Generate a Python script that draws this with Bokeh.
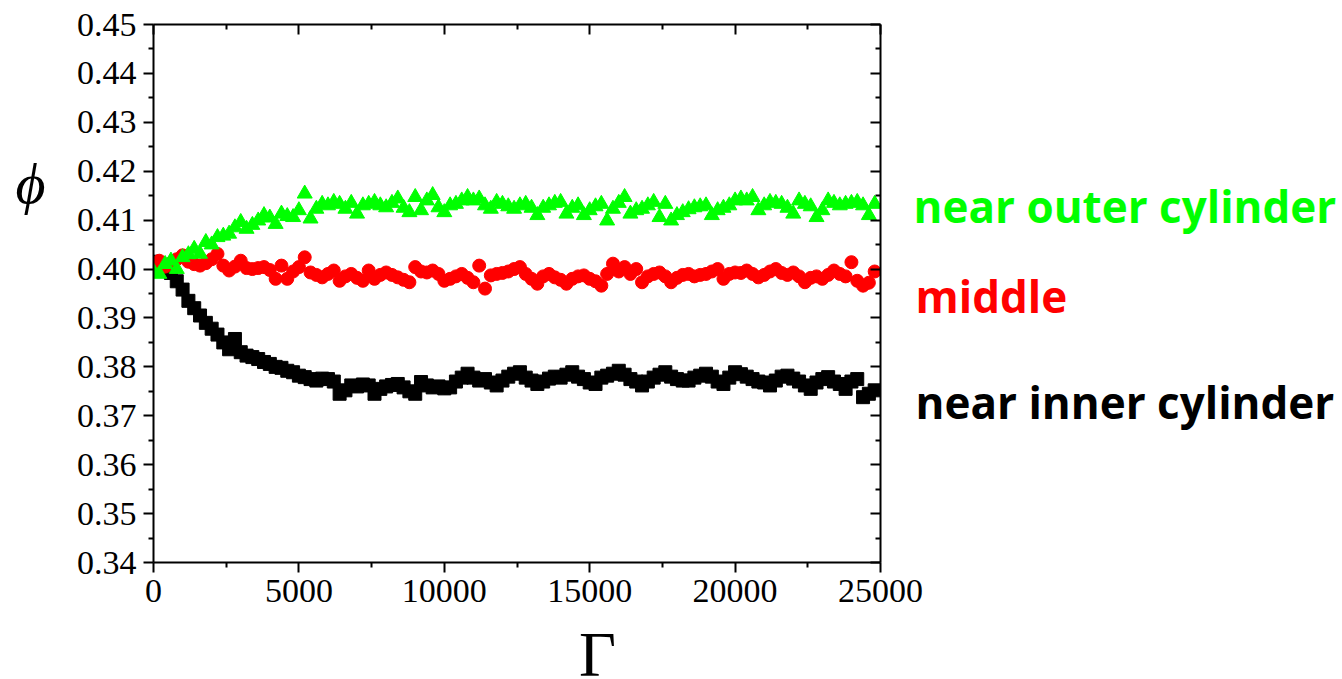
from bokeh.plotting import figure
from bokeh.layouts import row
from bokeh.models import Range1d, LinearAxis, FixedTicker
from bokeh.core.properties import value
from bokeh.embed import file_html
from bokeh.resources import INLINE

# Sampling in Gamma (shear strain), one value every 200
gamma = list(range(0, 25000, 200))

# Packing fraction near the inner cylinder
phi_inner = [
    0.4015, 0.4008, 0.4000, 0.3992, 0.3975, 0.3958, 0.3935, 0.3920, 0.3905, 0.3890,
    0.3878, 0.3866, 0.3850, 0.3836, 0.3857, 0.3830, 0.3823, 0.3820, 0.3816, 0.3810,
    0.3806, 0.3800, 0.3798, 0.3792, 0.3789, 0.3782, 0.3779, 0.3775, 0.3772, 0.3776,
    0.3775, 0.3770, 0.3745, 0.3752, 0.3762, 0.3760, 0.3764, 0.3762, 0.3745, 0.3755,
    0.3760, 0.3763, 0.3765, 0.3758, 0.3750, 0.3745, 0.3769, 0.3762, 0.3758, 0.3760,
    0.3756, 0.3758, 0.3770, 0.3778, 0.3786, 0.3778, 0.3772, 0.3775, 0.3768, 0.3762,
    0.3772, 0.3780, 0.3786, 0.3789, 0.3778, 0.3772, 0.3765, 0.3770, 0.3776, 0.3780,
    0.3778, 0.3784, 0.3789, 0.3780, 0.3775, 0.3768, 0.3765, 0.3778, 0.3782, 0.3786,
    0.3792, 0.3784, 0.3775, 0.3770, 0.3762, 0.3770, 0.3778, 0.3784, 0.3789, 0.3780,
    0.3775, 0.3772, 0.3772, 0.3778, 0.3782, 0.3786, 0.3780, 0.3770, 0.3765, 0.3778,
    0.3789, 0.3785, 0.3780, 0.3775, 0.3770, 0.3768, 0.3762, 0.3772, 0.3780, 0.3782,
    0.3776, 0.3770, 0.3762, 0.3755, 0.3768, 0.3775, 0.3779, 0.3770, 0.3765, 0.3755,
    0.3770, 0.3775, 0.3738, 0.3745, 0.3752,
]

# Packing fraction in the middle of the gap
phi_middle = [
    0.4010, 0.4017, 0.4005, 0.4012, 0.4020, 0.4028, 0.4015, 0.4010, 0.4007, 0.4012,
    0.4020, 0.4031, 0.4007, 0.3997, 0.4005, 0.4017, 0.4002, 0.4000, 0.4002, 0.4004,
    0.3998, 0.3980, 0.4007, 0.3980, 0.3995, 0.4004, 0.4024, 0.3993, 0.3988, 0.3983,
    0.3990, 0.3997, 0.3976, 0.3985, 0.3990, 0.3982, 0.3976, 0.3997, 0.3980, 0.3988,
    0.3993, 0.3988, 0.3983, 0.3978, 0.3973, 0.4004, 0.3995, 0.3993, 0.3997, 0.3990,
    0.3976, 0.3980, 0.3985, 0.3990, 0.3982, 0.3973, 0.4007, 0.3960, 0.3987, 0.3990,
    0.3992, 0.3995, 0.4000, 0.4004, 0.3990, 0.3980, 0.3970, 0.3985, 0.3990, 0.3983,
    0.3978, 0.3970, 0.3980, 0.3985, 0.3987, 0.3980, 0.3975, 0.3966, 0.3990, 0.4011,
    0.3995, 0.4004, 0.3990, 0.4000, 0.3973, 0.3985, 0.3990, 0.3993, 0.3985, 0.3973,
    0.3982, 0.3988, 0.3990, 0.3985, 0.3988, 0.3990, 0.3995, 0.4000, 0.3980, 0.3990,
    0.3993, 0.3992, 0.3997, 0.3990, 0.3983, 0.3988, 0.3995, 0.4000, 0.3992, 0.3988,
    0.3993, 0.3985, 0.3973, 0.3982, 0.3985, 0.3980, 0.3988, 0.3997, 0.3990, 0.3985,
    0.4014, 0.3976, 0.3966, 0.3972, 0.3995,
]

# Packing fraction near the outer cylinder
phi_outer = [
    0.3995, 0.3990, 0.4010, 0.4017, 0.4000, 0.4024, 0.4030, 0.4041, 0.4031, 0.4055,
    0.4050, 0.4065, 0.4068, 0.4072, 0.4085, 0.4096, 0.4082, 0.4090, 0.4099, 0.4110,
    0.4105, 0.4092, 0.4113, 0.4108, 0.4106, 0.4120, 0.4154, 0.4103, 0.4123, 0.4133,
    0.4130, 0.4137, 0.4133, 0.4123, 0.4135, 0.4113, 0.4130, 0.4133, 0.4137, 0.4130,
    0.4126, 0.4135, 0.4144, 0.4125, 0.4116, 0.4147, 0.4120, 0.4140, 0.4151, 0.4126,
    0.4116, 0.4130, 0.4133, 0.4140, 0.4147, 0.4140, 0.4144, 0.4130, 0.4123, 0.4137,
    0.4133, 0.4128, 0.4123, 0.4130, 0.4133, 0.4125, 0.4110, 0.4125, 0.4130, 0.4135,
    0.4137, 0.4113, 0.4125, 0.4130, 0.4110, 0.4120, 0.4128, 0.4133, 0.4099, 0.4123,
    0.4135, 0.4147, 0.4113, 0.4120, 0.4123, 0.4130, 0.4137, 0.4106, 0.4133, 0.4099,
    0.4110, 0.4116, 0.4122, 0.4126, 0.4128, 0.4130, 0.4110, 0.4120, 0.4125, 0.4130,
    0.4140, 0.4144, 0.4140, 0.4147, 0.4120, 0.4130, 0.4137, 0.4135, 0.4133, 0.4125,
    0.4113, 0.4140, 0.4133, 0.4128, 0.4106, 0.4120, 0.4140, 0.4135, 0.4130, 0.4133,
    0.4135, 0.4137, 0.4130, 0.4110, 0.4133,
]

x_ticks = [0, 5000, 10000, 15000, 20000, 25000]
y_ticks = [0.34, 0.35, 0.36, 0.37, 0.38, 0.39, 0.40, 0.41, 0.42, 0.43, 0.44, 0.45]
x_minor = [2500, 7500, 12500, 17500, 22500]
y_minor = [0.345, 0.355, 0.365, 0.375, 0.385, 0.395, 0.405, 0.415, 0.425, 0.435, 0.445]

series_labels = ["near outer cylinder", "middle", "near inner cylinder"]
series_colors = ["#00ff00", "#ff0000", "#000000"]
series_label_levels = [0.4128, 0.3944, 0.3729]

SERIF = "Liberation Serif"
SANS = "Open Sans"

Y_RANGE = (0.34, 0.45)
# Both panels share the same top and bottom margins so their frames line up
BORDER_TOP = 24
BORDER_BOTTOM = 200

p = figure(
    frame_width=727, frame_height=538,
    min_border_left=153, min_border_right=45,
    min_border_top=BORDER_TOP, min_border_bottom=BORDER_BOTTOM,
    x_range=Range1d(0, 25000), y_range=Range1d(*Y_RANGE),
    output_backend="svg", toolbar_location=None,
    background_fill_color="white", border_fill_color="white",
)
p.grid.visible = False
p.outline_line_color = None
p.align = "start"

xt = FixedTicker(ticks=x_ticks, minor_ticks=x_minor)
yt = FixedTicker(ticks=y_ticks, minor_ticks=y_minor)


def style_axis(ax, ticker, show_labels, tick_in, tick_out):
    ax.ticker = ticker
    ax.axis_line_color = "black"
    ax.axis_line_width = 2
    ax.major_tick_line_color = "black"
    ax.major_tick_line_width = 2
    ax.minor_tick_line_color = "black"
    ax.minor_tick_line_width = 2
    ax.major_tick_in = tick_in
    ax.major_tick_out = tick_out
    ax.minor_tick_in = tick_in // 2
    ax.minor_tick_out = tick_out // 2
    if show_labels:
        ax.major_label_text_font = SERIF
        ax.major_label_text_font_size = "34px"
        ax.major_label_text_color = "black"
        ax.major_label_standoff = 7
    else:
        ax.major_label_text_font_size = "0px"
        ax.major_label_standoff = 0


style_axis(p.xaxis[0], xt, True, 0, 10)
style_axis(p.yaxis[0], yt, True, 0, 10)
p.yaxis[0].major_label_overrides = {t: f"{t:.2f}" for t in y_ticks}

top_axis = LinearAxis()
style_axis(top_axis, xt, False, 10, 0)
p.add_layout(top_axis, "above")

right_axis = LinearAxis()
style_axis(right_axis, yt, False, 10, 0)
p.add_layout(right_axis, "right")


def title_axis(tick_at, symbol, size, italic, standoff):
    """An axis with no line or ticks that carries a single symbol as its title."""
    ax = LinearAxis(ticker=FixedTicker(ticks=[tick_at], minor_ticks=[]))
    ax.axis_line_color = None
    ax.major_tick_line_color = None
    ax.minor_tick_line_color = None
    ax.major_tick_in = 0
    ax.major_tick_out = 0
    ax.major_label_overrides = {tick_at: symbol}
    ax.major_label_text_font = SERIF
    ax.major_label_text_font_style = "italic" if italic else "normal"
    ax.major_label_text_font_size = size
    ax.major_label_text_color = "black"
    ax.major_label_standoff = standoff
    return ax


# phi beside the vertical axis, Gamma below the horizontal one
p.add_layout(title_axis(0.4175, "\u03d5", "58px", True, 28), "left")
p.add_layout(title_axis(15268, "\u0393", "64px", False, 14), "below")

# Data series
p.scatter(gamma, phi_inner, marker="square", size=13, color=series_colors[2])
p.scatter(gamma, phi_middle, marker="circle", size=13, color=series_colors[1])
p.scatter(gamma, phi_outer, marker="triangle", size=15, color=series_colors[0])

# Panel to the right of the plot holding the series names, sharing the phi scale;
# it slides slightly under the plot's right margin, so its fills are transparent
names = figure(
    frame_width=432, frame_height=538,
    min_border_left=0, min_border_right=0,
    min_border_top=BORDER_TOP, min_border_bottom=BORDER_BOTTOM,
    x_range=Range1d(0, 432), y_range=Range1d(*Y_RANGE),
    x_axis_location=None, y_axis_location=None,
    output_backend="svg", toolbar_location=None,
    background_fill_color=None, border_fill_color=None,
)
names.grid.visible = False
names.outline_line_color = None
names.align = "start"
names.margin = (0, 0, 0, -15)
names.text(x=[3, 5, 5], y=series_label_levels, text=series_labels,
           text_color=series_colors, text_font=value(SANS),
           text_font_style="bold", text_font_size="44px",
           text_baseline="alphabetic", text_align="left")

layout = row(p, names, spacing=0)
open("out.html", "w").write(file_html(layout, INLINE))
